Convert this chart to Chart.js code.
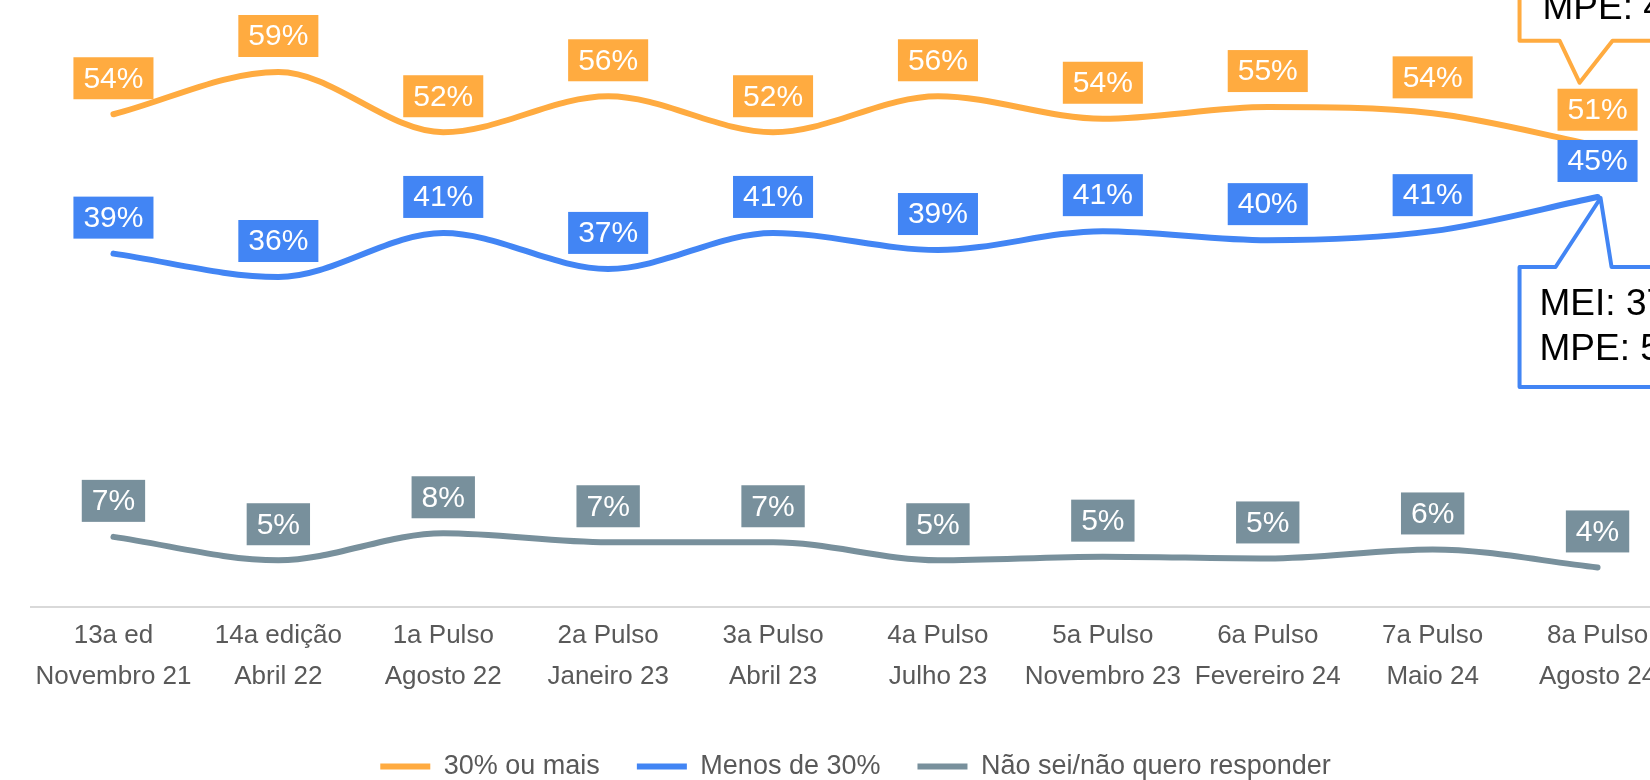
<!DOCTYPE html>
<html>
<head>
<meta charset="utf-8">
<script src="https://cdn.jsdelivr.net/npm/chart.js@4"></script>
<style>
  html, body { margin: 0; padding: 0; overflow: hidden; background: #fff; }
  #wrap { position: absolute; left: 0; top: 0; }
</style>
</head>
<body>
<div id="wrap"><canvas id="chart" width="1700" height="800"></canvas></div>
<script>
// categories (two lines each)
const editions = ["13a ed", "14a edição", "1a Pulso", "2a Pulso", "3a Pulso", "4a Pulso", "5a Pulso", "6a Pulso", "7a Pulso", "8a Pulso"];
const months = ["Novembro 21", "Abril 22", "Agosto 22", "Janeiro 23", "Abril 23", "Julho 23", "Novembro 23", "Fevereiro 24", "Maio 24", "Agosto 24"];

// series values (%)
const trintaOuMais = [54.3, 59.0, 52.3, 56.3, 52.3, 56.3, 53.8, 55.1, 54.4, 50.8];
const menosDe30 = [38.8, 36.2, 41.1, 37.1, 41.1, 39.2, 41.3, 40.3, 41.3, 45.1];
const naoSei = [7.3, 4.7, 7.7, 6.7, 6.7, 4.7, 5.1, 4.9, 5.9, 3.9];

const seriesNames = ["30% ou mais", "Menos de 30%", "Não sei/não quero responder"];
const seriesColors = ["#FFAB40", "#4285F4", "#78909C"];

// callout texts (cut off at the right edge in the reference)
const calloutTrinta = ["MPE: 4"];
const calloutMenos = ["MEI: 37", "MPE: 5"];

const FONT = '"Liberation Sans", Arial, sans-serif';

// boxed value labels above each point
const boxLabels = {
  id: 'boxLabels',
  afterDatasetsDraw(chart) {
    const ctx = chart.ctx;
    ctx.save();
    ctx.font = '30px ' + FONT;
    ctx.textAlign = 'center';
    ctx.textBaseline = 'middle';
    chart.data.datasets.forEach((ds, i) => {
      chart.getDatasetMeta(i).data.forEach((pt, j) => {
        const txt = Math.round(ds.data[j]) + '%';
        const w = ctx.measureText(txt).width + 20;
        const h = 42;
        const bottom = pt.y - 15;
        ctx.fillStyle = ds.borderColor;
        ctx.fillRect(pt.x - w / 2, bottom - h, w, h);
        ctx.fillStyle = '#fff';
        ctx.fillText(txt, pt.x, bottom - h / 2 + 1);
      });
    });
    ctx.restore();
  }
};

// speech-bubble callouts on the last edition
const callouts = {
  id: 'callouts',
  afterDraw(chart) {
    const ctx = chart.ctx;
    const last = trintaOuMais.length - 1;
    const pO = chart.getDatasetMeta(0).data[last];
    const pB = chart.getDatasetMeta(1).data[last];
    ctx.save();
    ctx.lineWidth = 4;
    ctx.lineJoin = 'round';
    ctx.font = '37px ' + FONT;
    ctx.textAlign = 'left';
    ctx.textBaseline = 'alphabetic';

    // blue one, below the point
    let L = pB.x - 78, T = pB.y + 70, B = pB.y + 190, R = L + 320;
    ctx.beginPath();
    ctx.moveTo(L, T);
    ctx.lineTo(pB.x - 42, T);
    ctx.lineTo(pB.x + 3, pB.y + 1);
    ctx.lineTo(pB.x + 14, T);
    ctx.lineTo(R, T);
    ctx.lineTo(R, B);
    ctx.lineTo(L, B);
    ctx.closePath();
    ctx.fillStyle = '#fff';
    ctx.fill();
    ctx.strokeStyle = seriesColors[1];
    ctx.stroke();
    ctx.fillStyle = '#000';
    calloutMenos.forEach((t, k) => ctx.fillText(t, L + 20, T + 48 + k * 45));

    // orange one, above the point
    L = pO.x - 78; B = pO.y - 105; T = B - 130; R = L + 320;
    ctx.beginPath();
    ctx.moveTo(L, T);
    ctx.lineTo(R, T);
    ctx.lineTo(R, B);
    ctx.lineTo(pO.x + 15, B);
    ctx.lineTo(pO.x - 18, pO.y - 63);
    ctx.lineTo(pO.x - 38, B);
    ctx.lineTo(L, B);
    ctx.closePath();
    ctx.fillStyle = '#fff';
    ctx.fill();
    ctx.strokeStyle = seriesColors[0];
    ctx.stroke();
    ctx.fillStyle = '#000';
    calloutTrinta.forEach((t, k) => ctx.fillText(t, L + 23, B - 22 - (calloutTrinta.length - 1 - k) * 45));
    ctx.restore();
  }
};

const seriesData = [trintaOuMais, menosDe30, naoSei];

new Chart(document.getElementById('chart'), {
  type: 'line',
  data: {
    labels: editions.map((e, i) => [e, months[i]]),
    datasets: seriesData.map((d, i) => ({
      label: seriesNames[i],
      data: d,
      borderColor: seriesColors[i],
      backgroundColor: seriesColors[i],
      borderWidth: 6,
      borderCapStyle: 'round',
      pointRadius: 0,
      fill: false,
      cubicInterpolationMode: 'monotone'
    }))
  },
  options: {
    responsive: false,
    animation: false,
    layout: { padding: { top: 63, left: 31, right: 20, bottom: 10 } },
    plugins: {
      tooltip: { enabled: false },
      legend: {
        position: 'bottom',
        labels: {
          usePointStyle: true,
          pointStyle: 'line',
          pointStyleWidth: 50,
          padding: 37,
          color: '#595959',
          font: { size: 27, family: FONT }
        }
      }
    },
    scales: {
      x: {
        offset: true,
        grid: { display: false, drawTicks: false },
        border: { color: '#d9d9d9', width: 2 },
        ticks: {
          color: '#595959',
          font: { size: 26, family: FONT, lineHeight: 1.58 },
          padding: 8,
          maxRotation: 0,
          autoSkip: false
        },
        afterFit(scale) { scale.height = 109; }
      },
      y: { display: false, min: -0.5, max: 60 }
    }
  },
  plugins: [boxLabels, callouts]
});
</script>
</body>
</html>
